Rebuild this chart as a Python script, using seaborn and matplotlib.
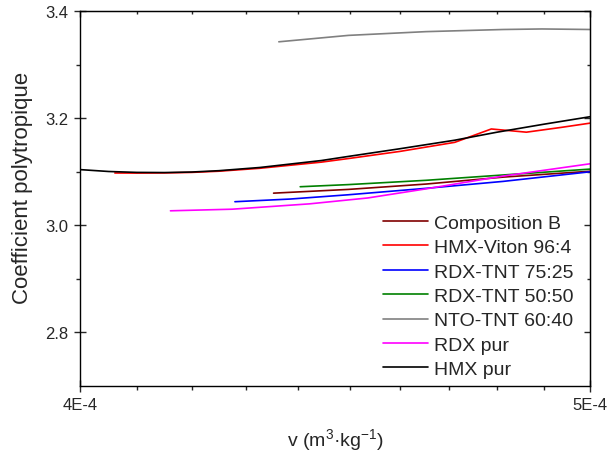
import pandas as pd
import seaborn as sns
import matplotlib.pyplot as plt
from matplotlib.ticker import FixedLocator, FixedFormatter

# data (v in m3/kg, polytropic coefficient)
compb_v = [4.353e-4, 4.498e-4, 4.653e-4, 4.813e-4, 5.000e-4]
compb_g = [3.060, 3.067, 3.077, 3.090, 3.101]

viton_v = [4.061e-4, 4.10e-4, 4.15e-4, 4.20e-4, 4.25e-4, 4.327e-4, 4.445e-4, 4.500e-4,
           4.600e-4, 4.712e-4, 4.788e-4, 4.862e-4, 4.937e-4, 5.000e-4]
viton_g = [3.0977, 3.0975, 3.0978, 3.0988, 3.101, 3.1065, 3.118, 3.125,
           3.138, 3.155, 3.180, 3.174, 3.183, 3.191]

rdx75_v = [4.280e-4, 4.385e-4, 4.498e-4, 4.653e-4, 4.813e-4, 5.000e-4]
rdx75_g = [3.044, 3.049, 3.057, 3.069, 3.082, 3.100]

rdx50_v = [4.404e-4, 4.498e-4, 4.653e-4, 4.813e-4, 5.000e-4]
rdx50_g = [3.072, 3.076, 3.084, 3.094, 3.105]

nto_v = [4.363e-4, 4.498e-4, 4.653e-4, 4.813e-4, 4.895e-4, 5.000e-4]
nto_g = [3.343, 3.355, 3.362, 3.366, 3.367, 3.366]

rdx_v = [4.161e-4, 4.275e-4, 4.422e-4, 4.536e-4, 4.653e-4, 4.813e-4, 5.000e-4]
rdx_g = [3.027, 3.030, 3.040, 3.051, 3.068, 3.092, 3.115]

hmx_v = [4.000e-4, 4.05e-4, 4.10e-4, 4.15e-4, 4.20e-4, 4.25e-4, 4.327e-4, 4.445e-4,
         4.500e-4, 4.600e-4, 4.712e-4, 4.800e-4, 4.900e-4, 5.000e-4]
hmx_g = [3.104, 3.1005, 3.0988, 3.0985, 3.0995, 3.102, 3.108, 3.121,
         3.129, 3.143, 3.159, 3.174, 3.189, 3.203]

names = ['Composition B', 'HMX-Viton 96:4', 'RDX-TNT 75:25', 'RDX-TNT 50:50',
         'NTO-TNT 60:40', 'RDX pur', 'HMX pur']
colors = ['#800000', '#ff0000', '#0000ff', '#008000', '#808080', '#ff00ff', '#000000']
series = [(compb_v, compb_g), (viton_v, viton_g), (rdx75_v, rdx75_g), (rdx50_v, rdx50_g),
          (nto_v, nto_g), (rdx_v, rdx_g), (hmx_v, hmx_g)]

rows = []
for name, (vs, gs) in zip(names, series):
    for v, g in zip(vs, gs):
        rows.append({'v': v, 'gamma': g, 'explosif': name})
df = pd.DataFrame(rows)

sns.set_style('ticks')
plt.rcParams['font.family'] = ['Liberation Sans', 'DejaVu Sans']
plt.rcParams['mathtext.fontset'] = 'custom'
plt.rcParams['mathtext.rm'] = 'Liberation Sans'
plt.rcParams['mathtext.it'] = 'Liberation Sans'

fig = plt.figure(figsize=(6.08, 4.56), dpi=100)
ax = fig.add_axes([0.132, 0.152, 0.839, 0.821])

sns.lineplot(data=df, x='v', y='gamma', hue='explosif', hue_order=names,
             palette=dict(zip(names, colors)), sort=False, estimator=None,
             linewidth=1.2, ax=ax)

ax.set_xscale('log')
ax.set_xlim(4e-4, 5e-4)
ax.set_ylim(2.7, 3.4)
minor_v = [k * 1e-5 for k in range(41, 50)]
ax.xaxis.set_major_locator(FixedLocator([4e-4, 5e-4]))
ax.xaxis.set_major_formatter(FixedFormatter(['4E-4', '5E-4']))
ax.xaxis.set_minor_locator(FixedLocator(minor_v))
ax.xaxis.set_minor_formatter(FixedFormatter([]))
ax.set_yticks([2.8, 3.0, 3.2, 3.4])
ax.set_yticks([2.9, 3.1, 3.3], minor=True)

for s in ax.spines.values():
    s.set_linewidth(1.0)
    s.set_color('black')
ax.tick_params(which='major', direction='inout', length=9, width=1, labelsize=12,
               top=False, right=False, pad=4)
ax.tick_params(which='minor', direction='out', length=3, width=1, top=False, right=False)

top = ax.secondary_xaxis('top')
top.set_xticks([4e-4, 5e-4])
top.xaxis.set_minor_locator(FixedLocator(minor_v))
top.xaxis.set_minor_formatter(FixedFormatter([]))
top.tick_params(which='major', direction='in', length=4, width=1, labeltop=False)
top.tick_params(which='minor', direction='in', length=2.5, width=1, labeltop=False)
right = ax.secondary_yaxis('right')
right.set_yticks([2.8, 3.0, 3.2, 3.4])
right.set_yticks([2.9, 3.1, 3.3], minor=True)
right.tick_params(which='major', direction='in', length=4, width=1, labelright=False)
right.tick_params(which='minor', direction='in', length=2.5, width=1, labelright=False)

ax.set_xlabel('v (m$^{3}$·kg$^{-1}$)', fontsize=14, labelpad=10)
ax.set_ylabel('Coefficient polytropique', fontsize=16)
ax.yaxis.set_label_coords(-0.093, 0.53)

ax.legend(frameon=False, fontsize=14, loc='upper left', bbox_to_anchor=(0.56, 0.505),
          handlelength=2.3, labelspacing=0.35, handletextpad=0.3)

fig.savefig('out.png', dpi=100)
